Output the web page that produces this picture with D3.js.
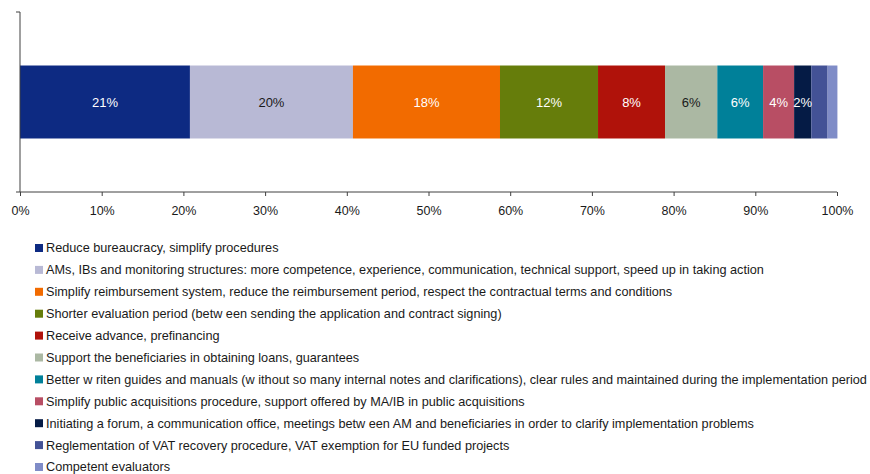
<!DOCTYPE html>
<html>
<head>
<meta charset="utf-8">
<script src="https://cdn.jsdelivr.net/npm/d3@7"></script>
<style>
  body { margin: 0; background: #ffffff; }
  text { font-family: "Liberation Sans", Arial, sans-serif; }
</style>
</head>
<body>
<div id="chart"></div>
<script>
// categories (legend order = stacking order)
const categories = [
  'Reduce bureaucracy, simplify procedures',
  'AMs, IBs and monitoring structures: more competence, experience, communication, technical support, speed up in taking action',
  'Simplify reimbursement system, reduce the reimbursement period, respect the contractual terms and conditions',
  'Shorter evaluation period (betw een sending the application and contract signing)',
  'Receive advance, prefinancing',
  'Support the beneficiaries in obtaining loans, guarantees',
  'Better w riten guides and manuals (w ithout so many internal notes and clarifications), clear rules and maintained during the implementation period',
  'Simplify public acquisitions procedure, support offered by MA/IB in public acquisitions',
  'Initiating a forum, a communication office, meetings betw een AM and beneficiaries in order to clarify implementation problems',
  'Reglementation of VAT recovery procedure, VAT exemption for EU funded projects',
  'Competent evaluators'
];

// share of answers, %
const values = [20.8, 19.95, 18.0, 12.0, 8.2, 6.4, 5.6, 3.8, 2.1, 2.0, 1.2];

// labels printed inside the bar (the last two are not labelled)
const barLabels = ['21%', '20%', '18%', '12%', '8%', '6%', '6%', '4%', '2%', '', ''];

const colors = ['#0d2a82', '#b8b9d5', '#f26b00', '#667d0b', '#b0120a', '#abb8a3',
                '#008099', '#b84e64', '#051b45', '#435296', '#7f8cc7'];
const labelColors = ['#ffffff', '#1a1a1a', '#ffffff', '#ffffff', '#ffffff', '#1a1a1a',
                     '#ffffff', '#ffffff', '#ffffff', '#ffffff', '#ffffff'];

const xTicks = [0, 10, 20, 30, 40, 50, 60, 70, 80, 90, 100];

const width = 870, height = 474;
const plotLeft = 20, plotRight = 837, plotTop = 12, plotBottom = 192;

const svg = d3.select('#chart')
    .append('svg')
    .attr('width', width)
    .attr('height', height);

const scaleX = d3.scaleLinear().domain([0, 100]).range([plotLeft, plotRight]);
const scaleY = d3.scaleBand().domain(['all']).range([plotTop, plotBottom]).padding(0.423);

// stacked segments
let start = 0;
const segs = values.map((v, i) => {
    const s = {i: i, x0: start, x1: start + v};
    start += v;
    return s;
});

svg.selectAll('rect.seg')
    .data(segs)
    .enter()
    .append('rect')
    .attr('class', 'seg')
    .attr('x', d => scaleX(d.x0))
    .attr('width', d => scaleX(d.x1) - scaleX(d.x0))
    .attr('y', scaleY('all'))
    .attr('height', scaleY.bandwidth())
    .style('fill', d => colors[d.i]);

svg.selectAll('text.seglabel')
    .data(segs.filter(d => barLabels[d.i] !== ''))
    .enter()
    .append('text')
    .attr('class', 'seglabel')
    .attr('x', d => scaleX((d.x0 + d.x1) / 2))
    .attr('y', scaleY('all') + scaleY.bandwidth() / 2)
    .attr('dy', '0.35em')
    .style('text-anchor', 'middle')
    .style('font-size', '13px')
    .style('fill', d => labelColors[d.i])
    .text(d => barLabels[d.i]);

// axes
const xAxis = d3.axisBottom(scaleX)
    .tickValues(xTicks)
    .tickFormat(d => d + '%')
    .tickSize(4)
    .tickPadding(10);

const xAxisGroup = svg.append('g')
    .attr('class', 'x axis')
    .attr('transform', 'translate(0,' + plotBottom + ')')
    .call(xAxis);

xAxisGroup.select('.domain').attr('d', 'M' + plotLeft + ',0H' + plotRight).style('stroke', '#404040');
xAxisGroup.selectAll('.tick line').style('stroke', '#404040');
xAxisGroup.selectAll('text')
    .style('font-size', '12.5px')
    .style('fill', '#1a1a1a')
    .style('font-family', '"Liberation Sans", Arial, sans-serif');

const yAxisGroup = svg.append('g')
    .attr('class', 'y axis')
    .attr('transform', 'translate(' + plotLeft + ',0)');

yAxisGroup.append('path')
    .attr('d', 'M-4,' + plotTop + 'H0V' + plotBottom + 'H-4')
    .style('fill', 'none')
    .style('stroke', '#404040');

// legend
const legend = svg.append('g').attr('class', 'legend');
const rowY = d3.scaleLinear().domain([0, categories.length - 1]).range([248, 467]);

const rows = legend.selectAll('g.row')
    .data(categories)
    .enter()
    .append('g')
    .attr('class', 'row')
    .attr('transform', (d, i) => 'translate(0,' + rowY(i) + ')');

rows.append('rect')
    .attr('x', 35)
    .attr('y', -4)
    .attr('width', 8)
    .attr('height', 8)
    .style('fill', (d, i) => colors[i]);

rows.append('text')
    .attr('x', 46)
    .attr('y', 0)
    .attr('dy', '0.35em')
    .style('font-size', '12.7px')
    .style('fill', '#1a1a1a')
    .text(d => d);
</script>
</body>
</html>
